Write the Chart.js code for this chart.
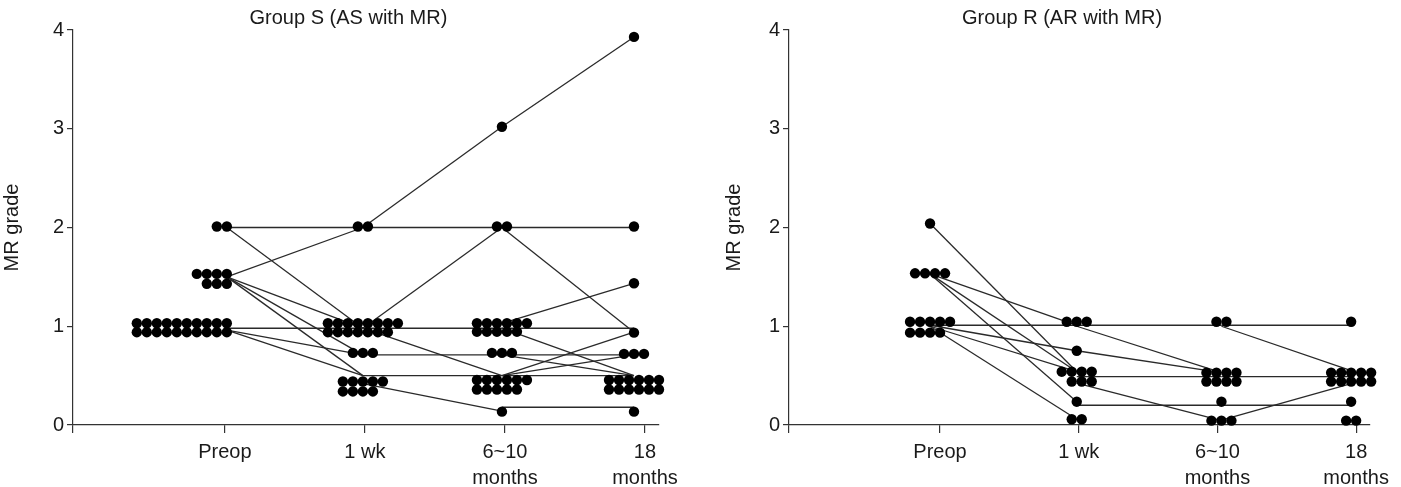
<!DOCTYPE html>
<html><head><meta charset="utf-8">
<script src="https://cdn.jsdelivr.net/npm/chart.js@4.4.1/dist/chart.umd.min.js"></script>
<style>
html,body{margin:0;padding:0;background:#fff;}
#wrap{position:relative;width:1401px;height:487px;overflow:hidden;background:#fff;}
canvas{position:absolute;top:0;}
#cS{left:0;width:700px;height:487px;}
#cR{left:722px;width:679px;height:487px;}
</style></head><body>
<div id="wrap"><canvas id="cS" width="700" height="487"></canvas><canvas id="cR" width="679" height="487"></canvas></div>
<script>
// ---------- shared labels ----------
const timepoints = ['Preop', '1 wk', ['6~10', 'months'], ['18', 'months']];
const yTickValues = [0, 1, 2, 3, 4];
const yAxisTitle = 'MR grade';

// ---------- Group S (AS with MR) ----------
// each row of dots: plotted MR grade and number of patients in that row
const groupS_preop_grades = [2.01, 1.53, 1.43, 1.03, 0.94];
const groupS_preop_counts = [2, 4, 3, 10, 10];
const groupS_1wk_grades   = [2.01, 1.03, 0.94, 0.73, 0.44, 0.34];
const groupS_1wk_counts   = [2, 8, 7, 3, 5, 4];
const groupS_6m_grades    = [3.02, 2.01, 1.03, 0.945, 0.73, 0.456, 0.36, 0.135];
const groupS_6m_counts    = [1, 2, 6, 5, 3, 6, 5, 1];
const groupS_18m_grades   = [3.93, 2.01, 1.435, 0.935, 0.72, 0.456, 0.36, 0.135];
const groupS_18m_counts   = [1, 1, 1, 1, 3, 6, 6, 1];
// connecting lines: [from time (1-4), from grade, to time, to grade]
const groupS_links = [
  [1, 2.0, 2, 2.0], [1, 2.0, 2, 0.98], [1, 1.5, 2, 2.0], [1, 1.5, 2, 0.98],
  [1, 1.5, 2, 0.71], [1, 1.5, 2, 0.5], [1, 0.98, 2, 0.98], [1, 0.96, 2, 0.71],
  [1, 0.96, 2, 0.5],
  [2, 2.0, 3, 3.02], [2, 2.0, 3, 2.0], [2, 0.98, 3, 2.0], [2, 0.98, 3, 0.98],
  [2, 0.98, 3, 0.5], [2, 0.71, 3, 0.71], [2, 0.5, 3, 0.5], [2, 0.42, 3, 0.14],
  [3, 3.02, 4, 3.93], [3, 2.0, 4, 2.0], [3, 2.0, 4, 0.94], [3, 1.03, 4, 1.435],
  [3, 0.98, 4, 0.98], [3, 0.98, 4, 0.5], [3, 0.71, 4, 0.71], [3, 0.71, 4, 0.5],
  [3, 0.5, 4, 0.94], [3, 0.5, 4, 0.71], [3, 0.5, 4, 0.5], [3, 0.18, 4, 0.18]
];

// ---------- Group R (AR with MR) ----------
const groupR_preop_grades = [2.04, 1.536, 1.046, 0.935];
const groupR_preop_counts = [1, 4, 5, 4];
const groupR_1wk_grades   = [1.046, 0.752, 0.54, 0.44, 0.236, 0.058];
const groupR_1wk_counts   = [3, 1, 4, 3, 1, 2];
const groupR_6m_grades    = [1.046, 0.53, 0.44, 0.236, 0.044];
const groupR_6m_counts    = [2, 4, 4, 1, 3];
const groupR_18m_grades   = [1.046, 0.53, 0.44, 0.236, 0.044];
const groupR_18m_counts   = [1, 5, 5, 1, 2];
const groupR_links = [
  [1, 2.04, 2, 0.54], [1, 1.53, 2, 1.01], [1, 1.53, 2, 0.54], [1, 1.53, 2, 0.236],
  [1, 1.01, 2, 1.01], [1, 1.01, 2, 0.752], [1, 1.0, 2, 0.54], [1, 1.0, 2, 0.058],
  [2, 1.01, 3, 1.01], [2, 1.0, 3, 0.53], [2, 0.752, 3, 0.53], [2, 0.49, 3, 0.49],
  [2, 0.425, 3, 0.044], [2, 0.2, 3, 0.2],
  [3, 1.01, 4, 1.01], [3, 1.0, 4, 0.55], [3, 0.49, 4, 0.49], [3, 0.2, 4, 0.2],
  [3, 0.05, 4, 0.42]
];

// ---------- styling / layout (not data) ----------
const FONT = "'Liberation Sans', Arial, sans-serif";
const INK = '#1a1a1a';
const DOT_R = 5.2;
const PITCH = 10; // px between neighbouring dots in a row

function buildRows(gradesList, countsList) {
  return gradesList.map((g, i) => g.map((v, j) => ({ v, n: countsList[i][j] })));
}

// lay out dot rows horizontally around each time point using the chart's x scale
function layoutDots(chart, rowsByTime, anchors) {
  const xs = chart.scales.x;
  const ppu = xs.getPixelForValue(1) - xs.getPixelForValue(0);
  const pts = [];
  rowsByTime.forEach((rows, ti) => {
    const t = ti + 1;
    const a = anchors[ti];
    const clusters = [];
    rows.forEach(r => {
      const last = clusters[clusters.length - 1];
      if (last && last[last.length - 1].v - r.v <= 0.12) last.push(r); else clusters.push([r]);
    });
    clusters.forEach(cl => {
      const maxN = Math.max(...cl.map(r => r.n));
      cl.forEach(r => {
        for (let k = 0; k < r.n; k++) {
          let off;
          if (a.align === 'right') off = a.px - (r.n - 1 - k) * PITCH;
          else if (a.rowAlign === 'right') off = a.px + (maxN - 1) * PITCH / 2 - (r.n - 1 - k) * PITCH;
          else off = a.px - (maxN - 1) * PITCH / 2 + k * PITCH;
          pts.push({ x: t + off / ppu, y: r.v });
        }
      });
    });
  });
  return pts;
}

function linkEndpoints(chart, links, anchors) {
  const xs = chart.scales.x;
  const ppu = xs.getPixelForValue(1) - xs.getPixelForValue(0);
  return links.map(l => [
    { x: l[0] + anchors[l[0] - 1].px / ppu, y: l[1] },
    { x: l[2] + anchors[l[2] - 1].px / ppu, y: l[3] }
  ]);
}

// panel title, placed over the plot
const panelTitle = {
  id: 'panelTitle',
  afterDraw(chart, args, o) {
    const { ctx, chartArea: ca } = chart;
    ctx.save();
    ctx.fillStyle = INK;
    ctx.font = '20px ' + FONT;
    ctx.textAlign = 'center';
    ctx.textBaseline = 'middle';
    ctx.fillText(o.text, ca.left + o.frac * (ca.right - ca.left), o.y);
    ctx.restore();
  }
};

function makeChart(canvasId, title, rowsByTime, links, anchors, opt) {
  const datasets = [{
    label: 'patients', data: [], showLine: false,
    pointRadius: DOT_R, pointHoverRadius: DOT_R, pointBackgroundColor: '#000',
    pointBorderWidth: 0, clip: false
  }];
  links.forEach(() => datasets.push({
    label: 'link', data: [], showLine: true, pointRadius: 0, borderColor: '#2a2a2a',
    borderWidth: 1.3, fill: false, clip: false, tension: 0
  }));
  const chart = new Chart(document.getElementById(canvasId), {
    type: 'scatter',
    data: { datasets },
    plugins: [panelTitle],
    options: {
      responsive: false, animation: false, events: [],
      layout: { padding: { top: 30, right: opt.rightPad, bottom: 0, left: 0 } },
      plugins: {
        legend: { display: false }, tooltip: { enabled: false },
        title: { display: false },
        panelTitle: { text: title, frac: 0.47, y: 18 }
      },
      scales: {
        x: {
          type: 'linear', min: opt.xMin, max: opt.xMax,
          afterBuildTicks: s => { s.ticks = [s.min, 1, 2, 3, 4].map(v => ({ value: v })); },
          afterFit: s => { s.height = 62; },
          ticks: {
            autoSkip: false, maxRotation: 0, minRotation: 0, padding: 6, color: INK,
            font: { family: FONT, size: 20, lineHeight: 1.3 },
            callback: v => (Number.isInteger(v) && v >= 1 && v <= 4) ? timepoints[v - 1] : ''
          },
          grid: { drawOnChartArea: false, drawTicks: true, tickLength: 8, color: '#333', lineWidth: 1.2 },
          border: { display: true, color: '#333', width: 1.2 }
        },
        y: {
          min: 0, max: 4,
          afterBuildTicks: s => { s.ticks = yTickValues.map(v => ({ value: v })); },
          afterFit: s => { s.width = opt.yWidth; },
          ticks: { padding: 3, color: INK, font: { family: FONT, size: 20 } },
          grid: { drawOnChartArea: false, drawTicks: true, tickLength: 6, color: '#333', lineWidth: 1.2 },
          border: { display: true, color: '#333', width: 1.2 },
          title: { display: true, text: yAxisTitle, color: INK,
            font: { family: FONT, size: 20, lineHeight: 1.2 }, padding: { top: 0, bottom: 0 } }
        }
      }
    }
  });
  chart.data.datasets[0].data = layoutDots(chart, rowsByTime, anchors);
  linkEndpoints(chart, links, anchors).forEach((seg, i) => { chart.data.datasets[i + 1].data = seg; });
  chart.update('none');
  return chart;
}

const rowsS = buildRows(
  [groupS_preop_grades, groupS_1wk_grades, groupS_6m_grades, groupS_18m_grades],
  [groupS_preop_counts, groupS_1wk_counts, groupS_6m_counts, groupS_18m_counts]);
const rowsR = buildRows(
  [groupR_preop_grades, groupR_1wk_grades, groupR_6m_grades, groupR_18m_grades],
  [groupR_preop_counts, groupR_1wk_counts, groupR_6m_counts, groupR_18m_counts]);

makeChart('cS', 'Group S (AS with MR)', rowsS, groupS_links,
  [{ align: 'right', px: 2 }, { px: -2 }, { px: -3 }, { px: -11 }],
  { xMin: -0.084, xMax: 4.1, yWidth: 73, rightPad: 41 });
makeChart('cR', 'Group R (AR with MR)', rowsR, groupR_links,
  [{ px: -10 }, { px: -2, rowAlign: 'right' }, { px: 4 }, { px: -5 }],
  { xMin: -0.089, xMax: 4.1, yWidth: 67, rightPad: 31 });
</script>
</body></html>
